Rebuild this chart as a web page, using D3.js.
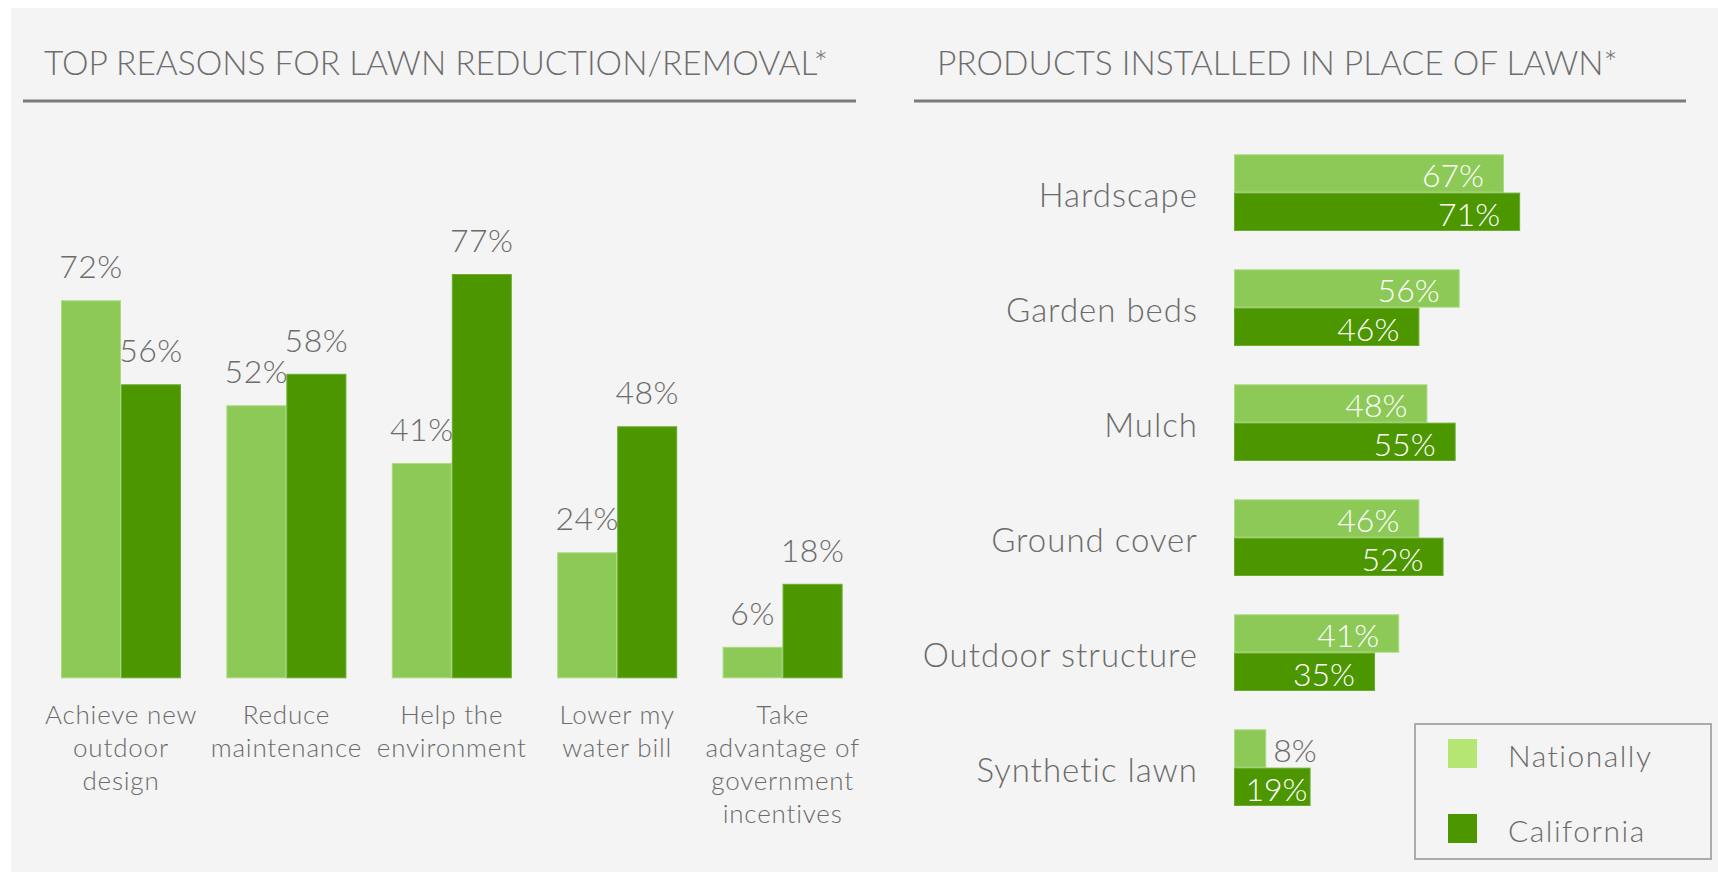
<!DOCTYPE html>
<html>
<head>
<meta charset="utf-8">
<script src="https://cdn.jsdelivr.net/npm/d3@7/dist/d3.min.js"></script>
<style>
  html, body { margin: 0; padding: 0; background: #ffffff; }
  svg { display: block; }
  text { font-family: Lato, "Open Sans", "DejaVu Sans", sans-serif; font-weight: 300; fill: #6b6b6b; }
</style>
</head>
<body>
<svg id="chart" width="1718" height="872"></svg>
<script>
// ---- data ----
const seriesNames = ["Nationally", "California"];

const reasonTitle = "TOP REASONS FOR LAWN REDUCTION/REMOVAL*";
const reasonCategories = [
  ["Achieve new", "outdoor", "design"],
  ["Reduce", "maintenance"],
  ["Help the", "environment"],
  ["Lower my", "water bill"],
  ["Take", "advantage of", "government", "incentives"]
];
const reasonNational = [72, 52, 41, 24, 6];
const reasonCalifornia = [56, 58, 77, 48, 18];

const productTitle = "PRODUCTS INSTALLED IN PLACE OF LAWN*";
const productCategories = ["Hardscape", "Garden beds", "Mulch", "Ground cover", "Outdoor structure", "Synthetic lawn"];
const productNational = [67, 56, 48, 46, 41, 8];
const productCalifornia = [71, 46, 55, 52, 35, 19];

// ---- styling ----
const barColors = { Nationally: "#8cc957", California: "#4c9600" };
const barEdges = { Nationally: "#a9db7f", California: "#6aac2c" };
const legendColors = { Nationally: "#b5e572", California: "#4c9600" };

const svg = d3.select("#chart");

// panel background
svg.append("rect")
  .attr("x", 11).attr("y", 8)
  .attr("width", 1718 - 11).attr("height", 872 - 8)
  .attr("fill", "#f4f4f4");

// section headings with rules underneath
function heading(text, x, ruleX0, ruleX1) {
  svg.append("text")
    .attr("x", x).attr("y", 75)
    .style("font-size", "33.5px")
    .style("fill", "#6d6d6d")
    .text(text);
  svg.append("line")
    .attr("x1", ruleX0).attr("x2", ruleX1)
    .attr("y1", 101).attr("y2", 101)
    .attr("stroke", "#7a7a7a").attr("stroke-width", 3);
}
heading(reasonTitle, 44, 23, 856);
heading(productTitle, 937, 914, 1686);

// ---- left: grouped vertical bars ----
const reasonRows = reasonCategories.map((c, i) => ({
  key: i,
  lines: c,
  values: [
    { series: "Nationally", value: reasonNational[i] },
    { series: "California", value: reasonCalifornia[i] }
  ]
}));

const x0 = d3.scaleBand()
  .domain(reasonRows.map(d => d.key))
  .range([61, 842.6])
  .paddingInner(0.2745)
  .paddingOuter(0);

const x1 = d3.scaleBand()
  .domain(seriesNames)
  .range([0, x0.bandwidth()])
  .padding(0);

const yV = d3.scaleLinear().domain([0, 100]).range([678.3, 678.3 - 525]);

const gLeft = svg.append("g");
const groupsL = gLeft.selectAll("g.grp")
  .data(reasonRows)
  .join("g")
  .attr("class", "grp")
  .attr("transform", d => `translate(${x0(d.key)},0)`);

groupsL.selectAll("rect")
  .data(d => d.values)
  .join("rect")
  .attr("x", d => x1(d.series) + 0.5)
  .attr("width", x1.bandwidth() - 1)
  .attr("y", d => yV(d.value) + 0.5)
  .attr("height", d => yV(0) - yV(d.value) - 1)
  .attr("fill", d => barColors[d.series])
  .attr("stroke", d => barEdges[d.series])
  .attr("stroke-width", 1);

groupsL.selectAll("text.val")
  .data(d => d.values)
  .join("text")
  .attr("class", "val")
  .attr("x", d => x1(d.series) + x1.bandwidth() / 2)
  .attr("y", d => yV(d.value) - 22)
  .attr("text-anchor", "middle")
  .style("font-size", "32px")
  .style("letter-spacing", "0.5px")
  .text(d => d.value + "%");

groupsL.each(function (d) {
  const t = d3.select(this).append("text")
    .attr("text-anchor", "middle")
    .style("font-size", "26px")
    .style("letter-spacing", "0.8px");
  d.lines.forEach((line, j) => {
    t.append("tspan")
      .attr("x", x0.bandwidth() / 2)
      .attr("y", 724 + j * 33)
      .text(line);
  });
});

// ---- right: grouped horizontal bars ----
const productRows = productCategories.map((c, i) => ({
  name: c,
  values: [
    { series: "Nationally", value: productNational[i] },
    { series: "California", value: productCalifornia[i] }
  ]
}));

const yB = d3.scaleBand()
  .domain(productCategories)
  .range([154.3, 806])
  .paddingInner(1 / 3)
  .paddingOuter(0);

const yB1 = d3.scaleBand()
  .domain(seriesNames)
  .range([0, yB.bandwidth()])
  .padding(0);

const xH = d3.scaleLinear().domain([0, 100]).range([1234, 1234 + 403]);

const gRight = svg.append("g");
const groupsR = gRight.selectAll("g.grp")
  .data(productRows)
  .join("g")
  .attr("class", "grp")
  .attr("transform", d => `translate(0,${yB(d.name)})`);

groupsR.selectAll("rect")
  .data(d => d.values)
  .join("rect")
  .attr("x", xH(0) + 0.5)
  .attr("width", d => xH(d.value) - xH(0) - 1)
  .attr("y", d => yB1(d.series) + 0.5)
  .attr("height", yB1.bandwidth() - 1)
  .attr("fill", d => barColors[d.series])
  .attr("stroke", d => barEdges[d.series])
  .attr("stroke-width", 1);

// value labels: inside the bar end when it fits, otherwise just past it
groupsR.selectAll("text.val")
  .data(d => d.values)
  .join("text")
  .attr("class", "val")
  .attr("x", d => {
    const end = xH(d.value);
    if (d.value < 10) return end + 7;
    if (d.value < 25) return end - 3;
    return end - 20;
  })
  .attr("y", d => yB1(d.series) + yB1.bandwidth() / 2 + 14)
  .attr("text-anchor", d => d.value < 10 ? "start" : "end")
  .style("font-size", "32px")
  .style("fill", d => d.value < 10 ? "#6b6b6b" : "#ffffff")
  .text(d => d.value + "%");

groupsR.append("text")
  .attr("x", 1198)
  .attr("y", yB.bandwidth() / 2 + 14)
  .attr("text-anchor", "end")
  .style("font-size", "33px")
  .style("letter-spacing", "1px")
  .text(d => d.name);

// ---- legend ----
const legend = svg.append("g");
legend.append("rect")
  .attr("x", 1415).attr("y", 724)
  .attr("width", 296).attr("height", 135)
  .attr("fill", "none")
  .attr("stroke", "#ababab")
  .attr("stroke-width", 2);

const legendY = d3.scalePoint().domain(seriesNames).range([739, 814]);
const items = legend.selectAll("g.item")
  .data(seriesNames)
  .join("g")
  .attr("class", "item")
  .attr("transform", d => `translate(1448,${legendY(d)})`);
items.append("rect")
  .attr("width", 29).attr("height", 29)
  .attr("fill", d => legendColors[d]);
items.append("text")
  .attr("x", 60).attr("y", 27.5)
  .style("font-size", "30px")
  .style("letter-spacing", "1.5px")
  .text(d => d);
</script>
</body>
</html>
